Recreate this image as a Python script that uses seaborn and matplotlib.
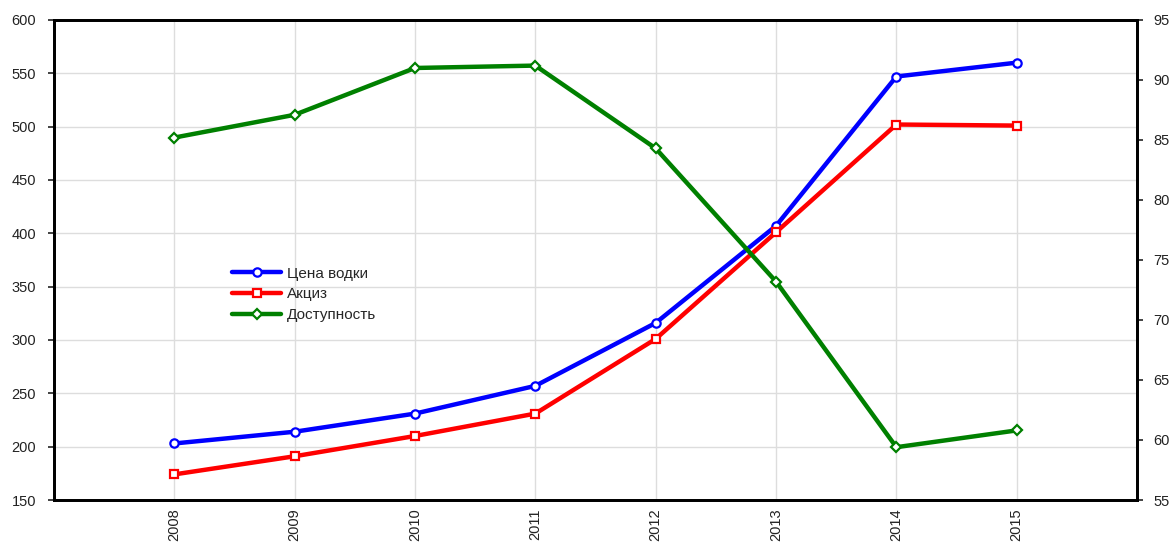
import matplotlib.pyplot as plt
import pandas as pd
import seaborn as sns

years = [2008, 2009, 2010, 2011, 2012, 2013, 2014, 2015]
vodka_price = [203, 214, 231, 257, 316, 407, 547, 560]
excise = [174, 191, 210, 231, 301, 401, 502, 501]
affordability = [85.2, 87.1, 91.0, 91.2, 84.3, 73.2, 59.4, 60.8]

left_ticks = list(range(150, 601, 50))
right_ticks = list(range(55, 96, 5))

df = pd.DataFrame(
    {
        "year": years,
        "price": vodka_price,
        "excise": excise,
        "afford": affordability,
    }
)

sns.set_theme(style="white")
plt.rcParams["font.family"] = ["Liberation Sans", "DejaVu Sans"]

fig = plt.figure(figsize=(11.71, 5.52), dpi=100)
ax = fig.add_axes([0.0461, 0.0942, 0.9249, 0.8696])
ax2 = ax.twinx()


def draw(axis, col, color, marker, label, ms=6):
    sns.lineplot(data=df, x="year", y=col, ax=axis, color=color, marker=marker,
                 label=label, legend=False, lw=3.2, markersize=ms,
                 markerfacecolor="white", markeredgecolor=color,
                 markeredgewidth=1.6)


draw(ax, "price", "#0000ff", "o", "Цена водки")
draw(ax, "excise", "#ff0000", "s", "Акциз")
draw(ax2, "afford", "#008000", "D", "Доступность", ms=5.5)

ax.set_xlim(2007, 2016)
ax.set_ylim(150, 600)
ax2.set_ylim(55, 95)
ax.set_xticks(years)
ax.set_xticklabels([str(y) for y in years], rotation=90)
ax.set_yticks(left_ticks)
ax2.set_yticks(right_ticks)
ax.set_xlabel("")
ax.set_ylabel("")
ax2.set_ylabel("")

ax.grid(True, color="#dddddd", lw=1)
ax.set_axisbelow(True)
ax2.grid(False)

for a in (ax, ax2):
    for s in a.spines.values():
        s.set_color("black")
        s.set_linewidth(2)
    a.tick_params(labelsize=10.5, colors="#222222", length=4, width=1.2)
ax.tick_params(axis="x", direction="in", length=3, pad=6)
ax.tick_params(axis="y", direction="out", left=True, pad=9)
ax2.tick_params(axis="y", direction="out", right=True, pad=8)

h1, l1 = ax.get_legend_handles_labels()
h2, l2 = ax2.get_legend_handles_labels()
ax.legend(h1 + h2, l1 + l2, loc="upper left", bbox_to_anchor=(0.152, 0.515),
          frameon=False, fontsize=11, handlelength=3.2, handletextpad=0.4,
          labelspacing=0.45)

fig.savefig("out.png", dpi=100)
